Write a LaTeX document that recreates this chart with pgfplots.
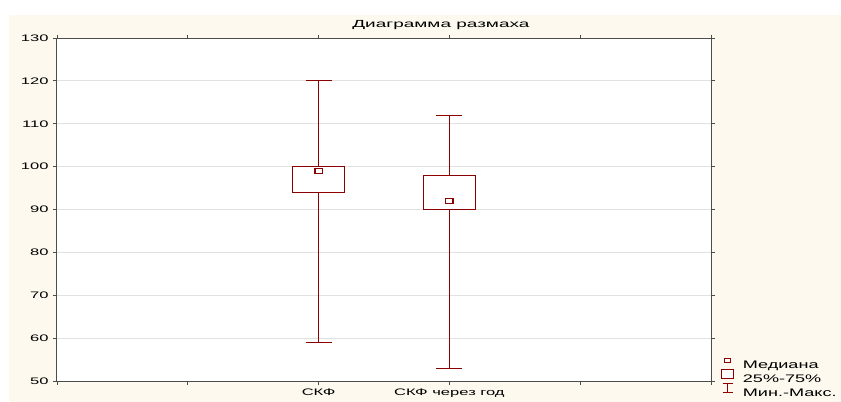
\documentclass[border=0pt]{standalone}
\usepackage{fontspec}
\setmainfont[FakeStretch=1.75]{Liberation Sans}
\newfontfamily\titlefont[FakeStretch=1.85]{Liberation Sans}
\newfontfamily\legfont[FakeStretch=1.65]{Liberation Sans}
\usepackage{pgfplots}
\pgfplotsset{compat=1.18}
\definecolor{boxred}{RGB}{139,0,0}
\definecolor{cream}{RGB}{253,249,238}
\definecolor{gridgray}{RGB}{225,225,225}
\begin{document}
\begin{tikzpicture}
\useasboundingbox (-57bp,-21bp) rectangle (784bp,381bp);
\fill[cream] (-48bp,-21bp) rectangle (784bp,366bp);
\begin{axis}[
  at={(0,0)}, anchor=south west,
  scale only axis, width=654bp, height=343bp,
  xmin=0, xmax=5, ymin=50, ymax=130,
  xtick={0,1,2,3,4,5},
  xticklabels={,,СКФ,СКФ через год,,},
  ytick={50,60,...,130},
  ymajorgrids, grid style={gridgray, line width=0.8bp},
  axis background/.style={fill=white},
  axis line style={black!70, line width=1bp},
  tick style={black!70, line width=0.8bp},
  major tick length=3.5bp,
  tick align=outside,
  font=\fontsize{9.5}{11}\selectfont,
  ticklabel style={font=\fontsize{9.5}{11}\selectfont},
  /pgf/number format/assume math mode=true,
  yticklabel style={xshift=-1.5bp},
  xticklabel style={yshift=-1bp},
  every axis title shift=0pt,
  title={\titlefont Диаграмма размаха},
  title style={at={(rel axis cs:0.587,1)}, anchor=base, yshift=10.5bp, font=\fontsize{10.3}{12}\selectfont},
  legend style={at={(rel axis cs:1.015,0.068)}, anchor=north west, draw=none, fill=none,
    font=\fontsize{11}{12}\selectfont\legfont, row sep=0bp, inner sep=0pt,
    nodes={inner sep=0.5bp, text height=8bp, text depth=0bp},
    /tikz/every odd column/.style={column sep=8bp}},
  legend cell align=left,
]
% box 1: SKF
\addplot[draw=boxred, fill=white, line width=1.2bp, forget plot]
  coordinates {(1.8,94) (2.2,94) (2.2,100) (1.8,100) (1.8,94)};
\addplot[boxred, line width=1.2bp, forget plot] coordinates {(2,100) (2,120)};
\addplot[boxred, line width=1.2bp, forget plot] coordinates {(2,59) (2,94)};
\addplot[boxred, line width=1.1bp, forget plot] coordinates {(1.9,120) (2.1,120)};
\addplot[boxred, line width=1.1bp, forget plot] coordinates {(1.9,59) (2.1,59)};
% box 2: SKF after a year
\addplot[draw=boxred, fill=white, line width=1.2bp, forget plot]
  coordinates {(2.8,90) (3.2,90) (3.2,98) (2.8,98) (2.8,90)};
\addplot[boxred, line width=1.2bp, forget plot] coordinates {(3,98) (3,112)};
\addplot[boxred, line width=1.2bp, forget plot] coordinates {(3,53) (3,90)};
\addplot[boxred, line width=1.1bp, forget plot] coordinates {(2.9,112) (3.1,112)};
\addplot[boxred, line width=1.1bp, forget plot] coordinates {(2.9,53) (3.1,53)};
% medians
\addplot[only marks, mark=square, mark size=3.6bp,
   mark options={draw=boxred, fill=white, line width=1.1bp, yscale=0.6},
   legend image code/.code={\draw[boxred, line width=1.1bp, fill=white] (3bp,2bp) rectangle (9bp,6bp);}]
   coordinates {(2,99) (3,92)};
\addlegendentry{Медиана}
\addlegendimage{legend image code/.code={
   \draw[boxred, line width=1.4bp, fill=white] (0bp,0bp) rectangle (12bp,9bp);}}
\addlegendentry{25\%-75\%}
\addlegendimage{legend image code/.code={
   \draw[boxred, line width=1.2bp] (1bp,9bp) -- (11bp,9bp) (6bp,9bp) -- (6bp,0bp) (1bp,0bp) -- (11bp,0bp);}}
\addlegendentry{Мин.-Макс.}
\end{axis}
\end{tikzpicture}
\end{document}
